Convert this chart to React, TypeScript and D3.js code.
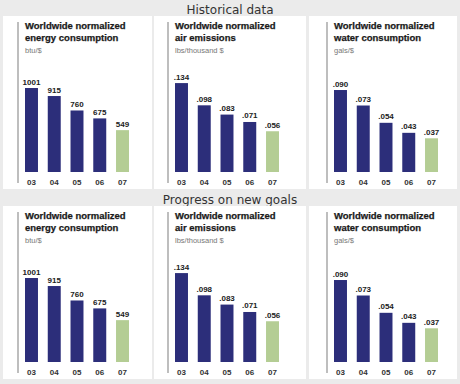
import React from 'react';
import * as d3 from 'd3';

// chart values
const years = ['03', '04', '05', '06', '07'];
const energy = [1001, 915, 760, 675, 549];
const air = [0.134, 0.098, 0.083, 0.071, 0.056];
const water = [0.090, 0.073, 0.054, 0.043, 0.037];

const sections = ['Historical data', 'Progress on new goals'];
const titles = [
  ['Worldwide normalized', 'energy consumption'],
  ['Worldwide normalized', 'air emissions'],
  ['Worldwide normalized', 'water consumption'],
];
const units = ['btu/$', 'lbs/thousand $', 'gals/$'];
// value axis extents for each small chart
const domains: [number, number][] = [[100, 1087], [-0.01, 0.139], [0, 0.101]];

const W = 460;
const H = 384;
const NAVY = '#2c2e7a';
const GREEN = '#b4cd94';

const fmt = (v: number) => (v >= 1 ? String(v) : d3.format('.3f')(v).replace(/^0/, ''));

const panelX = [3, 154, 309];
const panelW = [149, 152, 148];
const lineX = [18, 168, 327];

const Panel = ({ idx, values, top }: { idx: number; values: number[]; top: number }) => {
  const lx = lineX[idx];
  const bottom = top + 156;
  const x = d3.scaleBand<string>()
    .domain(years)
    .range([lx + 7, lx + 111])
    .paddingInner(0.43)
    .paddingOuter(0);
  const y = d3.scaleLinear().domain(domains[idx]).range([bottom, top + 64]);

  return (
    <g>
      <rect x={panelX[idx]} y={top} width={panelW[idx]} height={173} fill="#fff" />
      <line x1={lx} x2={lx} y1={top + 6} y2={top + 167} stroke="#a8a8a8" strokeWidth={1.5} />
      {titles[idx].map((t, i) => (
        <text
          key={t}
          x={lx + 7}
          y={top + 13 + i * 11.5}
          fontFamily="'Liberation Sans', Arial, sans-serif"
          fontWeight="bold"
          fontSize={9.5}
          fill="#1a1a1a"
          stroke="#1a1a1a"
          strokeWidth={0.25}
        >
          {t}
        </text>
      ))}
      <text
        x={lx + 7}
        y={top + 37}
        fontFamily="'Liberation Sans', Arial, sans-serif"
        fontSize={7.5}
        fill="#777"
      >
        {units[idx]}
      </text>
      {values.map((v, i) => {
        const bx = x(years[i])!;
        const by = y(v);
        return (
          <g key={years[i]}>
            <rect
              x={bx}
              y={by}
              width={x.bandwidth()}
              height={bottom - by}
              fill={i === values.length - 1 ? GREEN : NAVY}
            />
            <text
              x={bx + x.bandwidth() / 2}
              y={by - 3.5}
              textAnchor="middle"
              fontFamily="'Liberation Sans', Arial, sans-serif"
              fontWeight="bold"
              fontSize={8}
              fill="#222"
            >
              {fmt(v)}
            </text>
            <text
              x={bx + x.bandwidth() / 2}
              y={top + 169}
              textAnchor="middle"
              fontFamily="'Liberation Sans', Arial, sans-serif"
              fontWeight="bold"
              fontSize={8}
              fill="#333"
            >
              {years[i]}
            </text>
          </g>
        );
      })}
    </g>
  );
};

const App = () => {
  const series = [energy, air, water];
  return (
    <svg
      width={W}
      height={H}
      style={{ position: 'absolute', left: 0, top: 0, background: '#ebebeb' }}
    >
      {sections.map((s, r) => (
        <g key={s}>
          <text
            x={230}
            y={14 + r * 190}
            textAnchor="middle"
            fontFamily="'DejaVu Sans', Verdana, sans-serif"
            fontSize={12}
            fill="#333"
          >
            {s}
          </text>
          {series.map((vals, i) => (
            <Panel key={i} idx={i} values={vals} top={16 + r * 190} />
          ))}
        </g>
      ))}
    </svg>
  );
};

export default App;
